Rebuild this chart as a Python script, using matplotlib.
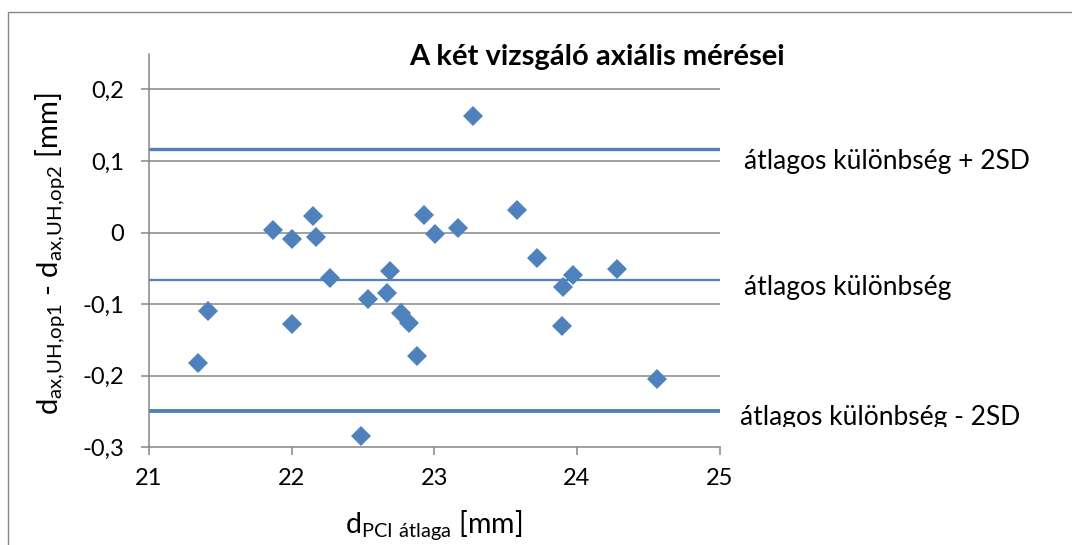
import matplotlib
matplotlib.use("Agg")
import matplotlib.pyplot as plt
from matplotlib.patches import Rectangle
from matplotlib.transforms import Bbox

plt.rcParams['font.family'] = ['Lato', 'DejaVu Sans']
plt.rcParams['mathtext.fontset'] = 'custom'
plt.rcParams['mathtext.rm'] = 'Lato'
plt.rcParams['mathtext.default'] = 'regular'

# PCI atlag (x) es a ket vizsgalo kulonbsege (y)
pci_atlag = [21.871, 22.000, 22.151, 22.168, 22.271, 21.411, 22.000, 21.345,
             22.928, 23.005, 23.164, 22.689, 22.666, 22.537, 23.578, 22.766,
             22.825, 22.877, 22.486, 23.273, 23.722, 23.970, 23.905, 24.279,
             23.893, 24.560]
kulonbseg = [0.003, -0.009, 0.023, -0.006, -0.064, -0.109, -0.128, -0.182,
             0.024, -0.002, 0.006, -0.053, -0.084, -0.093, 0.031, -0.112,
             -0.127, -0.172, -0.284, 0.163, -0.035, -0.059, -0.076, -0.051,
             -0.131, -0.204]

atlag = -0.066
felso = 0.1165
also = -0.249

xticks = [21, 22, 23, 24, 25]
yticks = [-0.3, -0.2, -0.1, 0, 0.1, 0.2]
ytick_labels = ['-0,3', '-0,2', '-0,1', '0', '0,1', '0,2']

blue = '#4F81BD'
gray = '#868686'
W, H = 1072, 545

fig = plt.figure(figsize=(W / 100, H / 100), dpi=100)
fig.patches.append(Rectangle((8 / W, -0.1), 1.2, 1 - 12 / H + 0.1,
                             transform=fig.transFigure, fill=False,
                             edgecolor=gray, linewidth=1.0))

ax = fig.add_axes([149 / W, 1 - 447.3 / H, (719.5 - 149) / W, (447.3 - 53.7) / H])
ax.set_xlim(21, 25)
ax.set_ylim(-0.3, 0.25)

for y in yticks[1:]:
    ax.axhline(y, color=gray, linewidth=1.1, zorder=1)

ax.plot([21, 25], [felso, felso], color=blue, linewidth=2.4, zorder=2)
ax.plot([21, 25], [atlag, atlag], color=blue, linewidth=1.6, zorder=2)
ax.plot([21, 25], [also, also], color=blue, linewidth=2.8, zorder=2)

ax.plot(pci_atlag, kulonbseg, linestyle='none', marker='D', markersize=10,
        color=blue, markeredgewidth=0, zorder=3)

for s in ['top', 'right']:
    ax.spines[s].set_visible(False)
for s in ['left', 'bottom']:
    ax.spines[s].set_color(gray)
    ax.spines[s].set_linewidth(1.1)

ax.set_xticks(xticks)
ax.set_xticklabels([str(v) for v in xticks])
ax.set_yticks(yticks)
ax.set_yticklabels(ytick_labels)
ax.tick_params(axis='both', direction='out', length=6, width=1.1, color=gray,
               labelsize=17, labelcolor='black')
ax.tick_params(axis='y', pad=12)
ax.tick_params(axis='x', pad=9)

fig.text(597 / W, 1 - 57 / H, 'A két vizsgáló axiális mérései',
         ha='center', va='center', fontsize=21, fontweight='bold')

fig.text(50 / W, 1 - 254 / H,
         r'd$_{ax{,}UH{,}op1}$ - d$_{ax{,}UH{,}op2}$ [mm]',
         rotation=90, ha='center', va='center', fontsize=21)
fig.text(434 / W, 1 - 533 / H, r'd$_{PCI\ átlaga}$ [mm]',
         ha='center', va='baseline', fontsize=20.5)

fig.text(744 / W, 1 - 161 / H, 'átlagos különbség + 2SD',
         ha='left', va='center', fontsize=19)
fig.text(744 / W, 1 - 288 / H, 'átlagos különbség',
         ha='left', va='center', fontsize=19)
t = fig.text(740 / W, 1 - 418 / H, 'átlagos különbség - 2SD',
             ha='left', va='center', fontsize=19)
# the reference cuts off the descenders of this label
t.set_clip_box(Bbox.from_extents(0, H - 427, W, H))
t.set_clip_on(True)

fig.savefig('out.png', dpi=100)
